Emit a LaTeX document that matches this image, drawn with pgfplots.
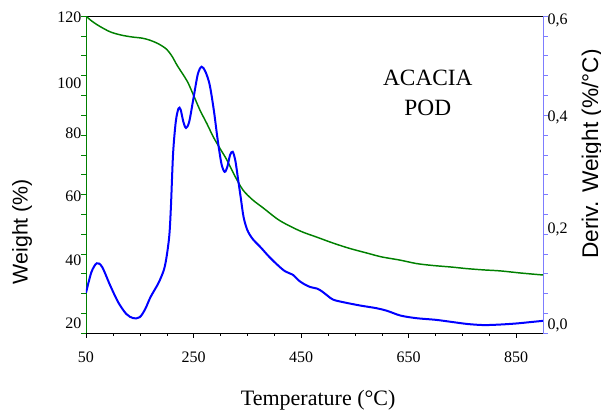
\documentclass[border=0pt]{standalone}
\usepackage{fontspec}
\setmainfont{Liberation Serif}
\newfontfamily\arialfont{Liberation Sans}
\usepackage{pgfplots}
\pgfplotsset{compat=1.18}
\definecolor{wgreen}{RGB}{0,128,0}
\definecolor{dblue}{RGB}{0,0,255}
\definecolor{spineblue}{RGB}{125,125,255}

\pgfplotsset{common/.style={width=342.75pt,height=237.75pt,scale only axis,
  xmin=50,xmax=900,tick align=outside,
  major tick length=3.5pt,minor tick length=2pt,
  tick label style={font=\fontsize{12}{14}\selectfont},
  /pgf/number format/assume math mode=true,
  extra tick style={major tick length=0pt}}}

\begin{document}
\begin{tikzpicture}
% weight, left axis
\begin{axis}[common,name=ax,
  ymin=20,ymax=120,
  xtick={50,250,450,650,850},minor x tick num=3,
  xticklabel style={yshift=-7pt},
  ytick={20,26.25,32.5,38.75,45,51.25,57.5,63.75,70,76.25,82.5,88.75,95,101.25,107.5,113.75,120},
  yticklabels={},
  extra y ticks={23.2,43,63.2,83.1,98.9,119.6},
  extra y tick labels={20,40,60,80,100,120},
  xtick pos=bottom,ytick pos=left,
  separate axis lines,
  x axis line style={black,line width=0.6pt},
  y axis line style={wgreen,line width=0.5pt},
  xtick style={black},ytick style={wgreen},
  xlabel={Temperature (°C)},
  xlabel style={font=\fontsize{16.5}{19}\selectfont,at={(rel axis cs:0.508,-0.212)},anchor=center},
  ylabel={\arialfont Weight (\%)},
  ylabel style={font=\fontsize{16}{19}\selectfont,at={(rel axis cs:-0.14,0.32)},anchor=center,rotate=0}]
\addplot[wgreen,line width=1.1pt,smooth] coordinates {
(50,120)(60,118.5)(75,116.8)(95,115)(115,114)(135,113.4)(155,113)(170,112.3)
(185,111.2)(200,109.5)(210,107.3)(220,104.3)(238,99.5)(250,95)(262,90.3)
(275,86)(287,81.8)(300,78)(312,74.6)(327,69.5)(342,65.1)(360,62)(380,59.4)
(410,55.5)(448,52.2)(480,50.2)(509,48.4)(540,46.7)(573,45.2)(600,44)(634,43)
(665,41.9)(695,41.3)(730,40.8)(759,40.3)(790,39.9)(820,39.6)(860,38.9)(900,38.3)};
\node[font=\fontsize{17.5}{22.5}\selectfont,align=center] at (rel axis cs:0.748,0.757) {ACACIA\\POD};
\end{axis}
% derivative, right axis
\begin{axis}[common,
  ymin=0,ymax=0.6,
  axis x line=none,axis y line*=right,
  y axis line style={spineblue,line width=0.6pt},
  ytick style={spineblue},
  ytick={0,0.0375,0.075,0.1125,0.15,0.1875,0.225,0.2625,0.3,0.3375,0.375,0.4125,0.45,0.4875,0.525,0.5625,0.6},
  yticklabels={},
  extra y ticks={0.015,0.197,0.409,0.592},
  extra y tick labels={{0,0},{0,2},{0,4},{0,6}},
  ylabel={\arialfont Deriv. Weight (\%/°C)},
  ylabel style={font=\fontsize{17}{20}\selectfont,at={(rel axis cs:1.108,0.565)},anchor=center,rotate=0}]
\addplot[dblue,line width=1.5pt,smooth,tension=0.5] coordinates {
(50,0.076)(60,0.115)(70,0.132)(80,0.125)(95,0.090)(110,0.058)(125,0.036)(138,0.028)
(150,0.030)(160,0.045)(170,0.068)(185,0.095)(195,0.120)(200,0.145)(205,0.185)(208,0.24)
(212,0.34)(217,0.40)(222,0.425)(226,0.423)(231,0.400)(236,0.388)(242,0.400)(250,0.445)
(258,0.490)(265,0.504)(272,0.495)(280,0.470)(288,0.420)(295,0.365)(302,0.320)(308,0.305)
(313,0.315)(318,0.337)(323,0.343)(328,0.325)(333,0.290)(338,0.255)(343,0.220)(350,0.195)
(360,0.178)(375,0.162)(390,0.145)(405,0.130)(420,0.117)(435,0.110)(445,0.100)(455,0.093)
(467,0.087)(480,0.084)(490,0.078)(500,0.070)(510,0.063)(530,0.058)(560,0.052)(590,0.047)
(610,0.042)(635,0.033)(665,0.028)(700,0.025)(730,0.021)(760,0.017)(790,0.015)(820,0.016)
(850,0.018)(880,0.021)(900,0.023)};
\end{axis}
\pgfresetboundingbox
\path (ax.south west) ++(-64.5pt,-59.25pt) rectangle ++(450.75pt,309pt);
\end{tikzpicture}
\end{document}
